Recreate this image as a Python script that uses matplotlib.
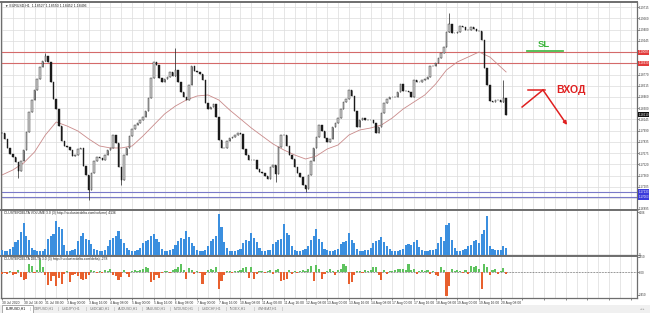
import matplotlib
matplotlib.use('Agg')
import matplotlib.pyplot as plt
import matplotlib.transforms as mtransforms
from matplotlib.patches import Rectangle
import numpy as np

plt.rcParams['font.family'] = ['Liberation Sans', 'DejaVu Sans']

# ---------------- data (2-hour bars, EURUSD H1 chart) ----------------
close = [
    1.17956, 1.17873, 1.17747, 1.17663, 1.17621, 1.17552, 1.17426, 1.17565, 1.17719, 1.17970,
    1.18250, 1.18417, 1.18557, 1.18710, 1.18878, 1.18961, 1.19031, 1.18948, 1.18668, 1.18431,
    1.18291, 1.18054, 1.17845, 1.17775, 1.17761, 1.17719, 1.17635, 1.17649, 1.17733, 1.17747,
    1.17496, 1.17370, 1.17161, 1.17398, 1.17565, 1.17621, 1.17607, 1.17579, 1.17649, 1.17719,
    1.17747, 1.17928, 1.17817, 1.17482, 1.17300, 1.17649, 1.17747, 1.17914, 1.18012, 1.18068,
    1.18096, 1.18138, 1.18180, 1.18263, 1.18445, 1.18724, 1.18948, 1.18906, 1.18724, 1.18668,
    1.18710, 1.18738, 1.18808, 1.18752, 1.18836, 1.18668, 1.18529, 1.18459, 1.18417, 1.18626,
    1.18892, 1.18822, 1.18808, 1.18780, 1.18696, 1.18375, 1.18291, 1.18319, 1.18361, 1.18180,
    1.17859, 1.17747, 1.17747, 1.17845, 1.17887, 1.17901, 1.17928, 1.17956, 1.17942, 1.17733,
    1.17649, 1.17579, 1.17579, 1.17579, 1.17454, 1.17412, 1.17398, 1.17356, 1.17314, 1.17482,
    1.17510, 1.17384, 1.17761, 1.17928, 1.17928, 1.17775, 1.17649, 1.17593, 1.17482, 1.17398,
    1.17342, 1.17230, 1.17175, 1.17370, 1.17565, 1.17747, 1.17901, 1.18068, 1.17984, 1.17887,
    1.17831, 1.17873, 1.18040, 1.18096, 1.18166, 1.18291, 1.18389, 1.18431, 1.18557, 1.18473,
    1.18263, 1.18040, 1.18138, 1.18166, 1.18138, 1.18138, 1.18138, 1.18096, 1.17956, 1.18040,
    1.18236, 1.18375, 1.18431, 1.18459, 1.18459, 1.18459, 1.18529, 1.18640, 1.18543, 1.18543,
    1.18529, 1.18459, 1.18696, 1.18668, 1.18668, 1.18696, 1.18710, 1.18738, 1.18892, 1.18892,
    1.18934, 1.19003, 1.19073, 1.19157, 1.19366, 1.19478, 1.19352, 1.19352, 1.19366, 1.19450,
    1.19436, 1.19394, 1.19394, 1.19436, 1.19408, 1.19380, 1.19380, 1.19255, 1.18864, 1.18626,
    1.18403, 1.18389, 1.18417, 1.18417, 1.18389, 1.18445, 1.18210,
]

# notable wick extremes (bar index, price)
wick_bars = [6, 16, 32, 44, 64, 101, 112, 165, 185]
wick_prices = [1.17328, 1.19073, 1.17021, 1.17230, 1.19143, 1.17272, 1.17133, 1.19631, 1.18696]

volume = [
    400, 300, 300, 500, 700, 1200, 1400, 2200, 3100, 1800, 1400, 600,
    400, 300, 300, 300, 500, 1500, 1800, 2000, 3300, 2700, 2500, 900,
    300, 300, 400, 500, 1300, 1800, 2100, 1500, 1400, 1000, 500, 400,
    300, 300, 400, 800, 1400, 1600, 1800, 2300, 1500, 1100, 600, 400,
    300, 300, 400, 600, 1100, 1300, 1400, 1800, 2000, 1500, 1200, 500,
    300, 300, 400, 500, 900, 1300, 1600, 1500, 2300, 1700, 1100, 800,
    400, 300, 300, 400, 800, 1300, 1500, 1800, 4000, 2700, 1200, 600,
    300, 300, 300, 400, 500, 1100, 1400, 1300, 2100, 1600, 1200, 600,
    300, 300, 400, 400, 1000, 1200, 1400, 1500, 3000, 2100, 1900, 800,
    400, 300, 300, 400, 500, 800, 1400, 1800, 2500, 1500, 1200, 500,
    400, 300, 300, 400, 500, 1000, 1200, 1300, 2100, 1400, 1100, 500,
    300, 300, 400, 400, 600, 1100, 1300, 1400, 1700, 1200, 800, 500,
    300, 300, 300, 400, 500, 900, 1000, 900, 1200, 1400, 700, 400,
    300, 300, 400, 400, 500, 1100, 1700, 1300, 2900, 3100, 1400, 600,
    300, 300, 400, 500, 800, 900, 1300, 1400, 1100, 2000, 2400, 3800,
    800, 500, 400, 400, 400, 800, 600,
]

delta = [
    -300, -150, -300, 150, -450, -300, 300, -750, -1200, -1050, 1200, 900,
    -150, 300, 1800, 750, -450, -1950, -1350, -600, -2100, -900, -1800, -300,
    150, -1500, -450, -300, -600, -1050, -1200, -1050, -450, 300, 150, -150,
    150, -150, 300, 150, 450, -450, -600, -1200, -750, 300, -300, -750,
    150, 300, 150, 300, 450, 750, 600, -1500, -1200, -450, -900, -150,
    150, 150, -150, 300, 450, 750, 1200, 300, -1050, 600, 300, -300,
    150, -150, -1800, -450, 300, 450, 300, 750, -2550, -1350, -450, 150,
    150, -150, 150, 150, 300, 600, 750, -900, 750, -1050, -300, 150,
    150, -150, 150, 300, -300, 300, 450, -1350, -1200, -1050, 300, -300,
    150, -150, 150, 300, 150, 450, 900, -1350, 1050, 450, -1050, -300,
    150, 450, 150, -450, 300, 450, 1200, 900, -1800, -1500, -450, 150,
    150, -150, 300, 150, 300, 750, 750, -450, -1200, 300, -300, 150,
    150, 300, 450, 450, 450, 300, 1200, 300, 450, -300, 150, 300,
    150, 300, -300, 150, -450, -600, 750, 300, -3600, -2100, 450, 150,
    300, 150, -150, 300, -300, 900, 750, 900, 450, -2550, 1200, 750,
    -450, 300, 450, -300, 150, 600, -300,
]

ma_bars = list(range(0, 185, 4)) + [186]
ma_vals = [
    1.17370, 1.17440, 1.17538, 1.17691, 1.17928, 1.18110, 1.18054, 1.17984, 1.17873, 1.17775,
    1.17747, 1.17747, 1.17775, 1.17914, 1.18068, 1.18222, 1.18333, 1.18417, 1.18473, 1.18487,
    1.18417, 1.18277, 1.18152, 1.18026, 1.17914, 1.17803, 1.17719, 1.17649, 1.17593, 1.17635,
    1.17733, 1.17789, 1.17928, 1.17998, 1.18026, 1.18068, 1.18166, 1.18291, 1.18389, 1.18487,
    1.18640, 1.18836, 1.18948, 1.19017, 1.19087, 1.19017, 1.18878, 1.18808,
]

price_ticks = [1.19715, 1.19560, 1.19400, 1.19245, 1.19085, 1.18930, 1.18770, 1.18615,
               1.18460, 1.18300, 1.18145, 1.17990, 1.17835, 1.17675, 1.17520, 1.17360,
               1.17205, 1.17050, 1.16895]
red_levels = [1.19085, 1.18930]
blue_levels = [1.17133, 1.17063]
last_price = 1.18210

date_labels = ["30 Jul 2020", "30 Jul 16:00", "31 Jul 08:00", "3 Aug 00:00", "3 Aug 16:00",
               "4 Aug 08:00", "5 Aug 00:00", "5 Aug 16:00", "6 Aug 08:00", "7 Aug 00:00",
               "7 Aug 16:00", "10 Aug 08:00", "11 Aug 00:00", "11 Aug 16:00", "12 Aug 08:00",
               "13 Aug 00:00", "13 Aug 16:00", "14 Aug 08:00", "17 Aug 00:00", "17 Aug 16:00",
               "18 Aug 08:00", "19 Aug 00:00", "19 Aug 16:00", "20 Aug 08:00"]
tabs = ["EURUSD,H1", "GBPUSD,H1", "USDJPY,H1", "USDCAD,H1", "AUDUSD,H1",
        "XAUUSD,H1", "NZDUSD,H1", "USDCHF,H1", "INDEX,H1", "#WHEAT,H1"]

# ---------------- figure ----------------
W, H = 650, 313
fig = plt.figure(figsize=(6.5, 3.13), dpi=100)
fig.patch.set_facecolor('white')


def R(x0, y0, x1, y1):
    return [x0 / W, 1 - y1 / H, (x1 - x0) / W, (y1 - y0) / H]


ax = fig.add_axes(R(1, 2, 637, 210))
axv = fig.add_axes(R(1, 210, 637, 254.5))
axd = fig.add_axes(R(1, 256, 637, 298))

FS = 2.1
XL = (-0.37, 234.3)
major = np.arange(0, 235, 8)
minor = np.arange(4, 235, 8)
for a in (ax, axv, axd):
    a.set_xlim(*XL)
    a.set_xticks(major)
    a.set_xticks(minor, minor=True)
    a.grid(axis='x', which='both', color='#dcdcdc', lw=0.5)
    a.set_axisbelow(True)
    a.tick_params(axis='x', which='both', length=0, labelbottom=False)
    for s in a.spines.values():
        s.set_color('#6e6e6e')
        s.set_linewidth(0.9)
    a.spines['top'].set_linewidth(1.4)

# ---- price panel ----
c = np.array(close)
o = np.r_[c[0], c[:-1]]
idx = np.arange(len(c))
up = c >= o
dn = ~up
ax.vlines(idx, np.minimum(o, c), np.maximum(o, c), color='#222222', lw=0.4, zorder=2)
for b, p in zip(wick_bars, wick_prices):
    ax.vlines(b, min(o[b], c[b], p), max(o[b], c[b], p), color='#222222', lw=0.5, zorder=2)
ax.bar(idx[up], (c - o)[up], bottom=o[up], width=0.55, color='#d4d4d4',
       edgecolor='#1a1a1a', linewidth=0.3, zorder=3)
ax.bar(idx[dn], (c - o)[dn], bottom=o[dn], width=0.55, color='#1a1a1a',
       edgecolor='#1a1a1a', linewidth=0.3, zorder=3)
ax.plot(ma_bars, ma_vals, color='#c98a8a', lw=0.6, zorder=2)
for lv in red_levels:
    ax.axhline(lv, color='#d46a6a', lw=0.8, zorder=1.5)
for lv in blue_levels:
    ax.axhline(lv, color='#7a7ac8', lw=0.8, zorder=1.5)

hidden = set(red_levels) | {1.17050}
ax.set_ylim(1.16881, 1.19785)
ax.yaxis.tick_right()
ax.set_yticks(price_ticks)
ax.set_yticklabels(['' if v in hidden else '%.5f' % v for v in price_ticks])
ax.tick_params(axis='y', labelsize=FS, length=1.2, pad=0.4, colors='#333333', width=0.4)
ax.grid(axis='y', color='#dcdcdc', lw=0.5)

trans = mtransforms.blended_transform_factory(ax.transAxes, ax.transData)


def price_box(val, fc):
    ax.text(1.0022, val, '%.5f' % val, transform=trans, color='white', fontsize=FS,
            va='center', ha='left', clip_on=False, zorder=10,
            bbox=dict(boxstyle='square,pad=0.2', fc=fc, ec='none'))


for lv in red_levels:
    price_box(lv, '#e23b3b')
for lv in blue_levels:
    price_box(lv, '#3b3bdc')
price_box(last_price, '#111111')

ax.text(0.006, 0.993, '\u25bc EURUSD,H1  1.18527 1.18550 1.18452 1.18496',
        transform=ax.transAxes, fontsize=2.5, va='top', ha='left', color='#222222')

# annotations
ax.plot([193.7, 207.0], [1.19101, 1.19101], color='#4cbb4c', lw=1.3, zorder=5)
ax.text(200.0, 1.19185, 'SL', color='#3cb43c', fontsize=6.8, fontweight='bold',
        ha='center', va='center', zorder=5)
ax.plot([191.9, 199.6], [1.18319, 1.18557], color='#e02020', lw=1.1, zorder=5)
ax.plot([194.1, 200.4], [1.18557, 1.18557], color='#e02020', lw=1.1, zorder=5)
ax.annotate('', xy=(208.5, 1.18068), xytext=(199.6, 1.18557),
            arrowprops=dict(arrowstyle='-|>', color='#e02020', lw=1.1,
                            mutation_scale=5, shrinkA=0, shrinkB=0), zorder=5)
ax.text(204.6, 1.18557, 'ВХОД', color='#e02020', fontsize=7.6, fontweight='bold',
        ha='left', va='center', zorder=5)

# ---- volume panel ----
axv.bar(idx, volume, width=0.78, color='#3b8fdf', zorder=3)
axv.set_ylim(0, 4400)
axv.yaxis.tick_right()
axv.set_yticks([0, 4200])
axv.set_yticklabels(['0', '4206'])
axv.tick_params(axis='y', labelsize=FS, length=1.2, pad=0.4, colors='#333333', width=0.4)
axv.text(0.004, 0.97, 'CLUSTERDELTA VOLUME 3.0 (3) http://ru.clusterdelta.com/volume) 4136',
         transform=axv.transAxes, fontsize=2.4, va='top', ha='left', color='#222222')

# ---- delta panel ----
d = np.array(delta)
axd.bar(idx, d, width=0.78, color=np.where(d >= 0, '#5ec35e', '#e8602e'), zorder=3)
axd.axhline(0, color='#333333', lw=0.5, ls=(0, (1, 1.2)), zorder=2)
axd.set_ylim(-3900, 2400)
axd.yaxis.tick_right()
axd.set_yticks([2250, 0, -3450])
axd.set_yticklabels(['2250', '0.00', '-3450'])
axd.tick_params(axis='y', labelsize=FS, length=1.2, pad=0.4, colors='#333333', width=0.4)
axd.text(0.004, 0.97, 'CLUSTERDELTA DELTA 3.0 (3) http://ru.clusterdelta.com/delta) -278',
         transform=axd.transAxes, fontsize=2.4, va='top', ha='left', color='#222222')

labels = date_labels + [''] * (len(major) - len(date_labels))
axd.set_xticklabels(labels)
axd.tick_params(axis='x', which='major', labelbottom=True, labelsize=2.4, length=1.5,
                pad=1, colors='#333333', width=0.4)
for t in axd.get_xticklabels():
    t.set_ha('left')

# ---- tab bar ----
fig.patches.append(Rectangle((0, 0), 1, 8 / H, transform=fig.transFigure,
                             fc='#f0f0f0', ec='none', zorder=0))
fig.patches.append(Rectangle((2 / W, 0.5 / H), 31 / W, 7.5 / H, transform=fig.transFigure,
                             fc='white', ec='#8a8a8a', lw=0.5, zorder=1))
tx = 6
for i, t in enumerate(tabs):
    fig.text(tx / W, 4 / H, t, fontsize=2.5, va='center', ha='left',
             color='#111111' if i == 0 else '#777777')
    tx += 28
    fig.text((tx - 4) / W, 4 / H, '|', fontsize=2.8, va='center', ha='left', color='#999999')
fig.text(640 / W, 4 / H, '\u25c2 \u25b8', fontsize=2.4, va='center', ha='left', color='#999999')

fig.savefig('out.png', dpi=100, facecolor='white')
